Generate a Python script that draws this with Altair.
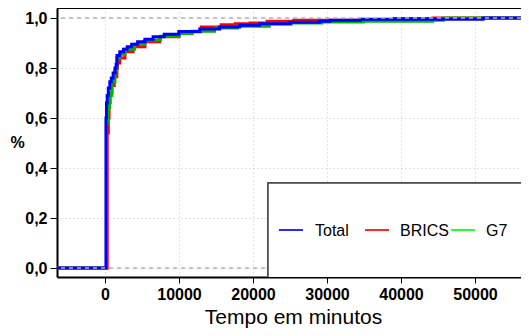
import altair as alt
import pandas as pd

# ---- data (minutes, cumulative share) ----
total_x = [-7000, 130, 200, 300, 450, 650, 850, 1100, 1350, 1500, 1620, 2000, 2500, 3000,
           3600, 4400, 5400, 6500, 8000, 10000, 12800, 15500, 18200, 20900, 25000, 29000,
           30400, 34500, 51100, 62000]
total_y = [0.0, 0.60, 0.66, 0.69, 0.72, 0.745, 0.76, 0.78, 0.80, 0.815, 0.85, 0.865, 0.875, 0.885,
           0.895, 0.905, 0.915, 0.925, 0.935, 0.946, 0.956, 0.964, 0.971, 0.977, 0.983, 0.987,
           0.991, 0.995, 1.0, 1.0]

brics_x = [-7000, 300, 450, 550, 700, 950, 1250, 1600, 1700, 2000, 2700, 3800, 5400, 7400,
           10000, 13000, 15700, 17600, 19600, 21900, 25500, 39000, 44300, 62000]
brics_y = [0.0, 0.54, 0.60, 0.66, 0.70, 0.73, 0.765, 0.80, 0.82, 0.84, 0.865, 0.885, 0.905, 0.925,
           0.945, 0.964, 0.973, 0.977, 0.98, 0.987, 0.991, 0.998, 1.0, 1.0]

g7_x = [-7000, 200, 400, 600, 900, 1350, 1600, 2000, 2700, 4000, 5400, 7500, 10000, 11800,
        14800, 17900, 22200, 25200, 29300, 34900, 44300, 45700, 62000]
g7_y = [0.0, 0.58, 0.64, 0.69, 0.745, 0.79, 0.84, 0.855, 0.875, 0.895, 0.912, 0.927, 0.938, 0.947,
        0.96, 0.967, 0.976, 0.98, 0.984, 0.987, 0.991, 1.0, 1.0]

series_names = ["Total", "BRICS", "G7"]
line_colors = {"Total": "#0000FF", "BRICS": "#FF0000", "G7": "#00B400"}
legend_colors = {"Total": "#0000FF", "BRICS": "#FF0000", "G7": "#00FF00"}

x_ticks = [0, 10000, 20000, 30000, 40000, 50000]
y_ticks = [0.0, 0.2, 0.4, 0.6, 0.8, 1.0]
ref_levels = [0.0, 1.0]

# ---- layout ----
W, H = 464, 269
X_DOMAIN = [-6486, 56216]
Y_DOMAIN = [-0.036, 1.04]
FONT = "Liberation Sans"

xscale = alt.Scale(domain=X_DOMAIN, nice=False, zero=False)
yscale = alt.Scale(domain=Y_DOMAIN, nice=False, zero=False)

xaxis = alt.Axis(values=x_ticks, format="d", title="Tempo em minutos",
                 grid=True, gridDash=[1, 3], gridColor="#c8c8c8", gridWidth=1,
                 domainColor="black", domainWidth=2, tickColor="black", tickSize=6, tickWidth=1,
                 labelFont=FONT, labelFontSize=16, labelFontWeight="bold", labelColor="black",
                 labelPadding=3, labelFlush=False, labelOverlap=False,
                 titleFont=FONT, titleFontSize=21, titleFontWeight="normal", titleColor="black",
                 titleX=236, titleY=46, titleBaseline="alphabetic")
yaxis = alt.Axis(values=y_ticks, title="%", labelExpr="replace(format(datum.value, '.1f'), '.', ',')",
                 grid=True, gridDash=[1, 3], gridColor="#c8c8c8", gridWidth=1,
                 domainColor="black", domainWidth=2, tickColor="black", tickSize=7, tickWidth=1,
                 labelFont=FONT, labelFontSize=16, labelFontWeight="bold", labelColor="black",
                 labelPadding=3, labelFlush=False, labelOverlap=False,
                 titleFont=FONT, titleFontSize=16, titleFontWeight="bold", titleColor="black",
                 titleAngle=0, titleX=-40, titleY=H / 2, titleAlign="center", titleBaseline="middle")

X = alt.X("x:Q", scale=xscale, axis=xaxis)
Y = alt.Y("y:Q", scale=yscale, axis=yaxis)

frames = {
    "Total": pd.DataFrame({"x": total_x, "y": total_y}),
    "BRICS": pd.DataFrame({"x": brics_x, "y": brics_y}),
    "G7": pd.DataFrame({"x": g7_x, "y": g7_y}),
}

layers = []
for name in ["BRICS", "G7", "Total"]:
    layers.append(
        alt.Chart(frames[name]).mark_line(interpolate="step-after", strokeWidth=3,
                                          color=line_colors[name], clip=True)
        .encode(x=X, y=Y)
    )

ref_df = pd.DataFrame({"y": ref_levels})
layers.append(
    alt.Chart(ref_df).mark_rule(color="#b3b3b3", strokeDash=[4, 4], strokeWidth=1.5)
    .encode(y=Y)
)

# top border of the plot box
layers.append(
    alt.Chart(ref_df).mark_rule(color="black", strokeWidth=2)
    .encode(x=alt.value(0), x2=alt.value(W), y=alt.value(0))
)

# legend box
layers.append(
    alt.Chart(ref_df).mark_rect(fill="white", stroke="#444444", strokeWidth=1.5, clip=True)
    .encode(x=alt.value(211), x2=alt.value(W + 20), y=alt.value(175), y2=alt.value(H + 10))
)
leg_line_x = {"Total": 222, "BRICS": 308, "G7": 394}
leg_text_x = {"Total": 258, "BRICS": 343, "G7": 429}
LEG_Y = 222
for name in series_names:
    layers.append(
        alt.Chart(ref_df).mark_rule(color=legend_colors[name], strokeWidth=1.2)
        .encode(x=alt.value(leg_line_x[name]), x2=alt.value(leg_line_x[name] + 24), y=alt.value(LEG_Y))
    )
    layers.append(
        alt.Chart(pd.DataFrame({"label": [name]})).mark_text(font=FONT, fontSize=16, align="left",
                                                             baseline="middle", color="black")
        .encode(x=alt.value(leg_text_x[name]), y=alt.value(LEG_Y + 1), text="label:N")
    )

chart = alt.layer(*layers).properties(
    width=W, height=H,
    padding={"left": 49, "top": 0, "right": 0, "bottom": 51},
    autosize=alt.AutoSizeParams(type="none"),
).configure_view(stroke=None)

chart.save("out.html", embed_options={"renderer": "svg", "actions": False})
